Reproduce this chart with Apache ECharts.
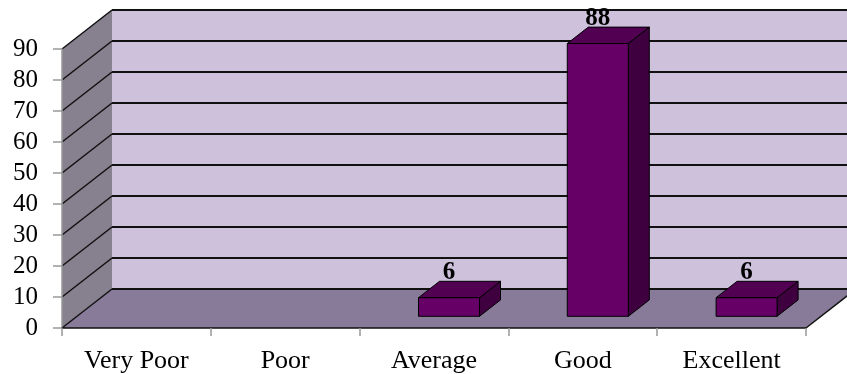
<!DOCTYPE html>
<html>
<head>
<meta charset="utf-8">
<script src="https://cdn.jsdelivr.net/npm/echarts@6/dist/echarts.min.js"></script>
<style>
html,body{margin:0;padding:0;background:#fff;}
#chart{width:847px;height:374px;}
</style>
</head>
<body>
<div id="chart"></div>
<script>
const categories = ['Very Poor', 'Poor', 'Average', 'Good', 'Excellent'];
const values = [0, 0, 6, 88, 6];
const yMin = 0;
const yMax = 90;
const yStep = 10;
const yTicks = [0, 10, 20, 30, 40, 50, 60, 70, 80, 90];

const DX = 50, DY = -39;          // 3D depth offset (pixels)
const FONT = '"Liberation Serif", "Times New Roman", serif';

const chart = echarts.init(document.getElementById('chart'), null, {renderer: 'canvas'});

function renderFrame(params, api) {
  const cs = params.coordSys;
  const x0 = cs.x, x1 = cs.x + cs.width, yt = cs.y, yb = cs.y + cs.height;
  const children = [];
  children.push({type: 'polygon', shape: {points: [[x0, yt], [x0 + DX, yt + DY], [x0 + DX, yb + DY], [x0, yb]]},
    style: {fill: '#86808F'}});
  children.push({type: 'rect', shape: {x: x0 + DX, y: yt + DY, width: x1 - x0, height: yb - yt},
    style: {fill: '#CDC1DC'}});
  children.push({type: 'polygon', shape: {points: [[x0, yb], [x1, yb], [x1 + DX, yb + DY], [x0 + DX, yb + DY]]},
    style: {fill: '#877B99'}});
  yTicks.forEach(function (v) {
    const y = api.coord([0, v])[1];
    children.push({type: 'line', shape: {x1: x0 + DX, y1: y + DY, x2: x1 + DX, y2: y + DY},
      style: {stroke: '#111', lineWidth: 2}});
    children.push({type: 'line', shape: {x1: x0, y1: y, x2: x0 + DX, y2: y + DY},
      style: {stroke: '#111', lineWidth: 1.5}});
  });
  children.push({type: 'line', shape: {x1: x1, y1: yb, x2: x1 + DX, y2: yb + DY},
    style: {stroke: '#111', lineWidth: 1.5}});
  return {type: 'group', children: children};
}

function renderBar(params, api) {
  const i = api.value(0), v = api.value(1);
  if (!v) return {type: 'group', children: []};
  const base = api.coord([i, 0]);
  const top = api.coord([i, v]);
  const bw = api.size([1, 0])[0] * 0.41;
  const off = 0.3, depth = 0.42;
  const L = base[0] - bw / 2 + off * DX, R = L + bw;
  const B = base[1] + off * DY, T = top[1] + off * DY;
  const ddx = depth * DX, ddy = depth * DY;
  return {type: 'group', children: [
    {type: 'polygon', shape: {points: [[R, T], [R + ddx, T + ddy], [R + ddx, B + ddy], [R, B]]},
      style: {fill: '#3F003F', stroke: '#000', lineWidth: 1}},
    {type: 'polygon', shape: {points: [[L, T], [R, T], [R + ddx, T + ddy], [L + ddx, T + ddy]]},
      style: {fill: '#520052', stroke: '#000', lineWidth: 1}},
    {type: 'rect', shape: {x: L, y: T, width: bw, height: B - T},
      style: {fill: '#660066', stroke: '#000', lineWidth: 1}},
    {type: 'text', x: L + bw / 2, y: T + ddy - 9,
      style: {text: String(v), fill: '#000', font: 'bold 25px ' + FONT, align: 'center', verticalAlign: 'middle'}}
  ]};
}

const option = {
  animation: false,
  backgroundColor: '#fff',
  grid: {left: 62, right: 41, top: 49, bottom: 45},
  xAxis: {
    type: 'category', data: categories, z: 10,
    axisLine: {show: true, lineStyle: {color: '#111', width: 1.5}},
    axisTick: {show: true, length: 8, lineStyle: {color: '#999', width: 1.5}},
    axisLabel: {color: '#000', fontFamily: FONT, fontSize: 26, margin: 20},
    splitLine: {show: false}
  },
  yAxis: {
    type: 'value', min: yMin, max: yMax, interval: yStep, z: 10,
    axisLine: {show: true, lineStyle: {color: '#999', width: 1.5}},
    axisTick: {show: true, length: 9, lineStyle: {color: '#999', width: 1.5}},
    axisLabel: {color: '#000', fontFamily: FONT, fontSize: 25, margin: 24},
    splitLine: {show: false}
  },
  series: [
    {type: 'custom', name: 'frame', clip: false, z: 1, data: [[0, 0]], renderItem: renderFrame, silent: true},
    {type: 'custom', name: 'bars', clip: false, z: 3,
      data: values.map(function (v, i) { return [i, v]; }), renderItem: renderBar}
  ]
};
chart.setOption(option);
</script>
</body>
</html>
